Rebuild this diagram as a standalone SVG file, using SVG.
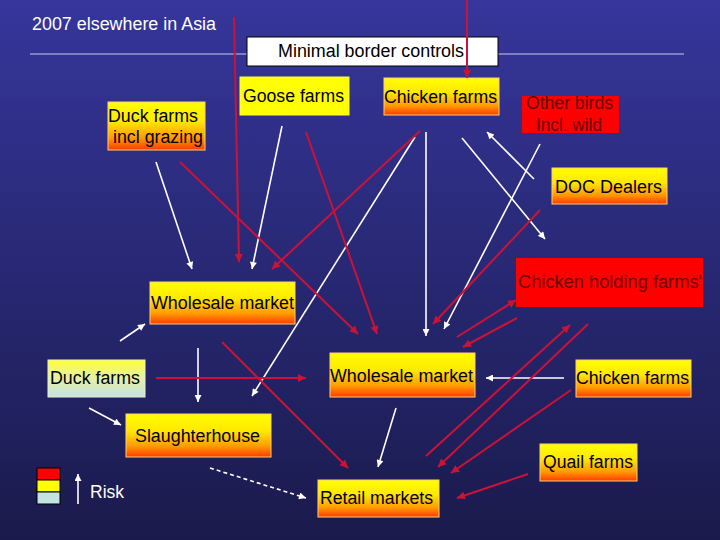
<svg xmlns="http://www.w3.org/2000/svg" width="720" height="540" viewBox="0 0 720 540">
<defs>
<linearGradient id="bg" x1="0" y1="0" x2="0" y2="1">
<stop offset="0" stop-color="#36369c"/>
<stop offset="1" stop-color="#1a1a4c"/>
</linearGradient>
<linearGradient id="hot" x1="0" y1="0" x2="0" y2="1">
<stop offset="0" stop-color="#ffff00"/>
<stop offset="0.4" stop-color="#ffe800"/>
<stop offset="0.75" stop-color="#ff9a00"/>
<stop offset="1" stop-color="#ff3a00"/>
</linearGradient>
<linearGradient id="cool" x1="0" y1="0" x2="0" y2="1">
<stop offset="0" stop-color="#ffff33"/>
<stop offset="0.5" stop-color="#e4f0a8"/>
<stop offset="1" stop-color="#c4e2e2"/>
</linearGradient>
<marker id="aw" viewBox="0 0 10 10" refX="10" refY="5" markerWidth="9" markerHeight="7" markerUnits="userSpaceOnUse" orient="auto">
<path d="M0,0 L10,5 L0,10 z" fill="#ffffff"/>
</marker>
<marker id="ar" viewBox="0 0 10 10" refX="10" refY="5" markerWidth="9" markerHeight="8" markerUnits="userSpaceOnUse" orient="auto">
<path d="M0,0 L10,5 L0,10 z" fill="#cc1236"/>
</marker>
<style>
text { font-family: "Liberation Sans", Arial, sans-serif; font-size: 18px; }
.t { fill: #000000; }
.tr { fill: #6a0000; }
.tw { fill: #ffffff; }
.boxh { fill: url(#hot); stroke: #ffd070; stroke-width: 1; }
.boxc { fill: url(#cool); stroke: #e8f0d0; stroke-width: 1; }
.boxy { fill: #ffff00; stroke: #ffff40; stroke-width: 1; }
.boxr { fill: #ff0000; }
.w { stroke: #ffffff; stroke-width: 1.6; fill: none; marker-end: url(#aw); }
.wd { stroke: #ffffff; stroke-width: 1.6; fill: none; stroke-dasharray: 4 3; marker-end: url(#aw); }
.r { stroke: #cc1236; stroke-width: 2; fill: none; marker-end: url(#ar); }
</style>
</defs>
<rect x="0" y="0" width="720" height="540" fill="url(#bg)"/>

<g id="title">
<text class="tw" x="32" y="30" textLength="184" lengthAdjust="spacingAndGlyphs">2007 elsewhere in Asia</text>
<line x1="30" y1="54" x2="247" y2="54" stroke="#c8c8f0" stroke-width="1"/>
<line x1="498" y1="54" x2="684" y2="54" stroke="#c8c8f0" stroke-width="1"/>
</g>

<g id="border-controls">
<rect x="247" y="37" width="251" height="29" fill="#ffffff" stroke="#000000" stroke-width="1"/>
<text class="t" x="278" y="57" textLength="186" lengthAdjust="spacingAndGlyphs">Minimal border controls</text>
</g>

<g id="goose-farms">
<rect class="boxy" x="240" y="77" width="109" height="38"/>
<text class="t" x="243" y="102" textLength="101" lengthAdjust="spacingAndGlyphs">Goose farms</text>
</g>

<g id="chicken-farms-top">
<rect class="boxh" x="384" y="78" width="115" height="37"/>
<text class="t" x="384" y="103" textLength="113" lengthAdjust="spacingAndGlyphs">Chicken farms</text>
</g>

<g id="duck-farms-grazing">
<rect class="boxh" x="108" y="102" width="97" height="48"/>
<text class="t" x="108" y="122" textLength="90" lengthAdjust="spacingAndGlyphs">Duck farms</text>
<text class="t" x="113" y="143" textLength="90" lengthAdjust="spacingAndGlyphs">incl grazing</text>
</g>

<g id="other-birds">
<rect class="boxr" x="522" y="96" width="97" height="37"/>
<text class="tr" x="526" y="109" textLength="87" lengthAdjust="spacingAndGlyphs">Other birds</text>
<text class="tr" x="536" y="131" textLength="66" lengthAdjust="spacingAndGlyphs">Incl. wild</text>
</g>

<g id="doc-dealers">
<rect class="boxh" x="552" y="168" width="115" height="36"/>
<text class="t" x="555" y="193" textLength="107" lengthAdjust="spacingAndGlyphs">DOC Dealers</text>
</g>

<g id="chicken-holding-farms">
<rect class="boxr" x="516" y="258" width="187" height="49"/>
<text class="tr" x="518" y="288" textLength="184" lengthAdjust="spacingAndGlyphs">Chicken holding farms'</text>
</g>

<g id="wholesale-market-1">
<rect class="boxh" x="150" y="282" width="145" height="42"/>
<text class="t" x="151" y="309" textLength="143" lengthAdjust="spacingAndGlyphs">Wholesale market</text>
</g>

<g id="duck-farms">
<rect class="boxc" x="48" y="360" width="97" height="37"/>
<text class="t" x="50" y="384" textLength="90" lengthAdjust="spacingAndGlyphs">Duck farms</text>
</g>

<g id="wholesale-market-2">
<rect class="boxh" x="330" y="353" width="145" height="44"/>
<text class="t" x="330" y="382" textLength="143" lengthAdjust="spacingAndGlyphs">Wholesale market</text>
</g>

<g id="chicken-farms-right">
<rect class="boxh" x="576" y="360" width="115" height="37"/>
<text class="t" x="576" y="384" textLength="113" lengthAdjust="spacingAndGlyphs">Chicken farms</text>
</g>

<g id="slaughterhouse">
<rect class="boxh" x="126" y="414" width="145" height="43"/>
<text class="t" x="135" y="442" textLength="125" lengthAdjust="spacingAndGlyphs">Slaughterhouse</text>
</g>

<g id="quail-farms">
<rect class="boxh" x="540" y="444" width="97" height="37"/>
<text class="t" x="543" y="468" textLength="90" lengthAdjust="spacingAndGlyphs">Quail farms</text>
</g>

<g id="retail-markets">
<rect class="boxh" x="318" y="480" width="121" height="37"/>
<text class="t" x="320" y="504" textLength="113" lengthAdjust="spacingAndGlyphs">Retail markets</text>
</g>

<g id="connectors">
<!-- white -->
<line class="w" x1="156" y1="162" x2="192" y2="269"/>
<line class="w" x1="282" y1="126" x2="252" y2="269"/>
<line class="w" x1="415" y1="137" x2="252" y2="396"/>
<line class="w" x1="426" y1="132" x2="426" y2="336"/>
<line class="w" x1="462" y1="138" x2="545" y2="239"/>
<line class="w" x1="534" y1="179" x2="487" y2="132"/>
<line class="w" x1="540" y1="144" x2="444" y2="329"/>
<line class="w" x1="120" y1="341" x2="145" y2="324"/>
<line class="w" x1="198" y1="348" x2="198" y2="402"/>
<line class="w" x1="89" y1="408" x2="121" y2="425"/>
<line class="w" x1="564" y1="378" x2="486" y2="378"/>
<line class="w" x1="396" y1="408" x2="378" y2="467"/>
<line class="wd" x1="210" y1="468" x2="306" y2="498"/>
<!-- red -->
<line class="r" x1="234" y1="17" x2="239" y2="262"/>
<line class="r" x1="467" y1="0" x2="467" y2="78"/>
<line class="r" x1="180" y1="162" x2="358" y2="334"/>
<line class="r" x1="306" y1="132" x2="377" y2="334"/>
<line class="r" x1="420" y1="131" x2="272" y2="269"/>
<line class="r" x1="540" y1="210" x2="433" y2="324"/>
<line class="r" x1="457" y1="337" x2="516" y2="300"/>
<line class="r" x1="517" y1="318" x2="463" y2="347"/>
<line class="r" x1="426" y1="456" x2="570" y2="325"/>
<line class="r" x1="588" y1="324" x2="438" y2="467"/>
<line class="r" x1="571" y1="390" x2="451" y2="473"/>
<line class="r" x1="528" y1="474" x2="457" y2="498"/>
<line class="r" x1="156" y1="378" x2="306" y2="378"/>
<line class="r" x1="222" y1="342" x2="348" y2="468"/>
</g>

<g id="legend">
<rect x="37" y="468" width="23" height="12" fill="#ff0000" stroke="#000000" stroke-width="1"/>
<rect x="37" y="480" width="23" height="12" fill="#ffff00" stroke="#000000" stroke-width="1"/>
<rect x="37" y="492" width="23" height="12" fill="#c4e2e2" stroke="#000000" stroke-width="1"/>
<line class="w" x1="78" y1="504" x2="78" y2="474"/>
<text class="tw" x="90" y="498" textLength="34" lengthAdjust="spacingAndGlyphs">Risk</text>
</g>
</svg>
